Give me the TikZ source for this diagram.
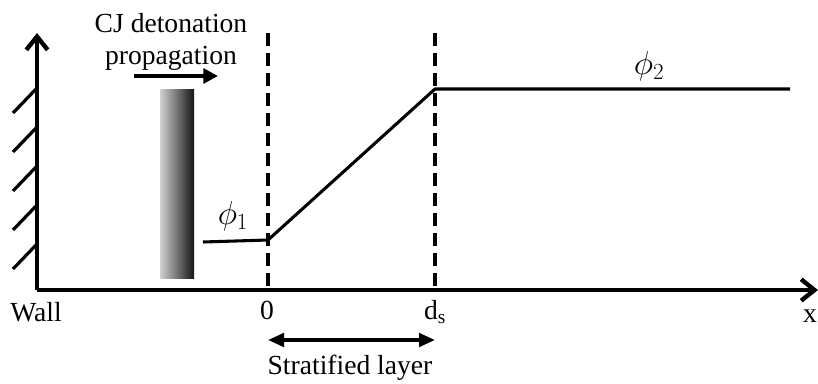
\documentclass[tikz,border=0pt]{standalone}
\usepackage{fontspec}
\setmainfont{Liberation Serif}
\usetikzlibrary{arrows.meta}
\begin{document}
\begin{tikzpicture}[x=0.75pt, y=-0.75pt,
    every node/.style={font=\fontsize{20.7}{24}\selectfont, inner sep=0pt},
    axis/.style={line width=3.3pt, -{Straight Barb[length=10pt, width=16pt]}},
    hatch/.style={line width=2.4pt},
    guide/.style={line width=2.4pt, dash pattern=on 10pt off 5pt},
    profile/.style={line width=2.3pt, line join=round},
    philab/.style={font=\fontsize{27}{30}\selectfont},
    fatarrow/.style={line width=3.2pt, -{Triangle[length=11pt, width=11pt]}}]
  \useasboundingbox (0,0) rectangle (818,383);
  % Axes
  \coordinate (origin) at (37,290);
  \coordinate (ytop) at (37,33);
  \coordinate (xend) at (818,290);
  \draw[axis] (origin) -- (ytop);
  \draw[axis] (origin) -- (xend);
  % Wall hatching
  \foreach \y in {88,127,166,205,244}
    \draw[hatch] (37,\y) -- (13,\y+25);
  % Detonation front
  \shade[left color=black!18, right color=black!92] (160,89) rectangle (194,278);
  \coordinate (p1) at (134,76);
  \coordinate (p2) at (218,76);
  \draw[fatarrow] (p1) -- (p2);
  \node[align=center] (cj) at (171,42) {CJ detonation\\propagation};
  % Layer boundaries
  \coordinate (z0top) at (268,33);
  \coordinate (z0) at (268,290);
  \coordinate (dstop) at (435,33);
  \coordinate (ds) at (435,290);
  \draw[guide] (z0top) -- (z0);
  \draw[guide] (dstop) -- (ds);
  % Equivalence ratio profile
  \coordinate (a) at (203,242);
  \coordinate (b) at (268,240);
  \coordinate (c) at (435,89);
  \coordinate (d) at (790,89);
  \draw[profile] (a) -- (b) -- (c) -- (d);
  \node[philab] (phi1) at (233,216) {$\phi_1$};
  \node[philab] (phi2) at (649,66) {$\phi_2$};
  % Labels
  \node (wall) at (36,312) {Wall};
  \node (zero) at (267,310) {0};
  \node (dlab) at (435,312) {d\textsubscript{s}};
  \node (xlab) at (810,316) {x};
  \coordinate (s1) at (268,340);
  \coordinate (s2) at (435,340);
  \draw[line width=2.8pt, {Triangle[length=12pt, width=10pt]}-{Triangle[length=12pt, width=10pt]}] (s1) -- (s2);
  \node (strat) at (350,368) {Stratified layer};
\end{tikzpicture}
\end{document}
